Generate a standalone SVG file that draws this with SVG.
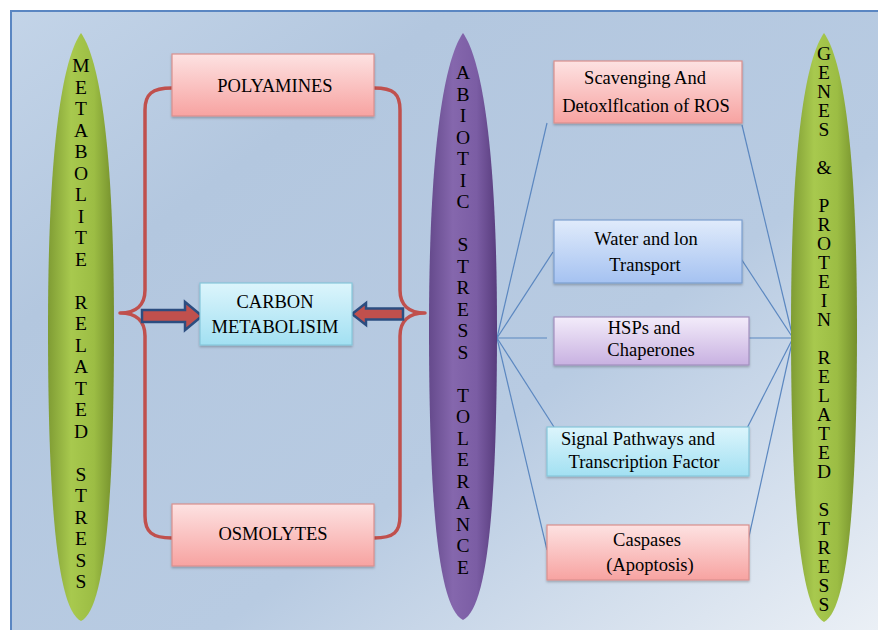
<svg xmlns="http://www.w3.org/2000/svg" width="878" height="630" viewBox="0 0 878 630">
<defs>
<linearGradient id="bg" x1="0" y1="0" x2="1" y2="1">
<stop offset="0" stop-color="#c3d4e8"/>
<stop offset="0.25" stop-color="#b3c7df"/>
<stop offset="0.6" stop-color="#b8cbe2"/>
<stop offset="1" stop-color="#eef2f7"/>
</linearGradient>
<linearGradient id="gGreen" x1="0" y1="0" x2="1" y2="0">
<stop offset="0" stop-color="#7f9c34"/>
<stop offset="0.35" stop-color="#a8c94e"/>
<stop offset="0.7" stop-color="#9cbd44"/>
<stop offset="1" stop-color="#748f2c"/>
</linearGradient>
<linearGradient id="gPurple" x1="0" y1="0" x2="1" y2="0">
<stop offset="0" stop-color="#654a8c"/>
<stop offset="0.35" stop-color="#8567ad"/>
<stop offset="0.7" stop-color="#7b5da4"/>
<stop offset="1" stop-color="#583c7d"/>
</linearGradient>
<linearGradient id="gPink" x1="0" y1="0" x2="0" y2="1">
<stop offset="0" stop-color="#fde2e2"/>
<stop offset="1" stop-color="#f7a3a1"/>
</linearGradient>
<linearGradient id="gCyan" x1="0" y1="0" x2="0" y2="1">
<stop offset="0" stop-color="#dcf5fc"/>
<stop offset="1" stop-color="#a2e0f2"/>
</linearGradient>
<linearGradient id="gBlue" x1="0" y1="0" x2="0" y2="1">
<stop offset="0" stop-color="#e0ebfb"/>
<stop offset="1" stop-color="#a5c2f1"/>
</linearGradient>
<linearGradient id="gLav" x1="0" y1="0" x2="0" y2="1">
<stop offset="0" stop-color="#f3ecfa"/>
<stop offset="1" stop-color="#c8b1e1"/>
</linearGradient>
<filter id="sh" x="-10%" y="-10%" width="120%" height="130%">
<feDropShadow dx="0" dy="1.5" stdDeviation="1.2" flood-color="#000" flood-opacity="0.25"/>
</filter>
<style>
text{font-family:"Liberation Serif","Times New Roman",serif;font-size:18.5px;fill:#000;text-anchor:middle}
.v text{font-size:19.5px}
.pink{fill:url(#gPink);stroke:#d9908e;stroke-width:1.2}
.cyan{fill:url(#gCyan);stroke:#86c6da;stroke-width:1.2}
.blue{fill:url(#gBlue);stroke:#7c9fcf;stroke-width:1.2}
.lav{fill:url(#gLav);stroke:#a28fbf;stroke-width:1.2}
.brace{fill:none;stroke:#c0504d;stroke-width:3.5;stroke-linejoin:round}
.arrow{fill:#c0504d;stroke:#2c4d80;stroke-width:2.5;stroke-linejoin:miter}
.link{stroke:#5b87c0;stroke-width:1.2;fill:none}
</style>
</defs>

<rect x="11" y="11" width="880" height="640" fill="url(#bg)" stroke="#5a86c2" stroke-width="2"/>

<g id="connectors">
<path class="brace" d="M172,88 C152,88 145,94 145,110 L145,290 C145,305 136,313 120,313 C136,313 145,321 145,336 L145,516 C145,532 152,538 172,538"/>
<path class="brace" d="M374,88 C394,88 400,94 400,110 L400,290 C400,305 409,313 425,313 C409,313 400,321 400,336 L400,516 C400,532 394,538 374,538"/>
<polygon class="arrow" points="142,310 185,310 185,302 202,316 185,330 185,322 142,322"/>
<polygon class="arrow" points="352,314 366,303 366,308.5 403,308.5 403,319.5 366,319.5 366,325"/>
<line class="link" x1="497" y1="338" x2="547" y2="123"/>
<line class="link" x1="497" y1="338" x2="553" y2="252"/>
<line class="link" x1="497" y1="338" x2="547" y2="338"/>
<line class="link" x1="497" y1="338" x2="554" y2="427"/>
<line class="link" x1="497" y1="338" x2="547" y2="550"/>
<line class="link" x1="793" y1="338" x2="742" y2="125"/>
<line class="link" x1="793" y1="338" x2="734" y2="248"/>
<line class="link" x1="793" y1="338" x2="742" y2="338"/>
<line class="link" x1="793" y1="338" x2="742" y2="438"/>
<line class="link" x1="793" y1="338" x2="742" y2="568"/>
</g>

<g id="metabolite">
<path d="M81,33 C100,60 114,150 114,327 C114,510 104,610 81,621 C58,610 48,510 48,327 C48,150 62,60 81,33 Z" fill="url(#gGreen)"/>
<g class="v">
<text x="81" y="72">M</text><text x="81" y="93.5">E</text><text x="81" y="115">T</text><text x="81" y="136.5">A</text><text x="81" y="158">B</text><text x="81" y="179.5">O</text><text x="81" y="201">L</text><text x="81" y="222.5">I</text><text x="81" y="244">T</text><text x="81" y="265.5">E</text>
<text x="81" y="308.5">R</text><text x="81" y="330">E</text><text x="81" y="351.5">L</text><text x="81" y="373">A</text><text x="81" y="394.5">T</text><text x="81" y="416">E</text><text x="81" y="437.5">D</text>
<text x="81" y="480.5">S</text><text x="81" y="502">T</text><text x="81" y="523.5">R</text><text x="81" y="545">E</text><text x="81" y="566.5">S</text><text x="81" y="588">S</text>
</g>
</g>

<g id="abiotic">
<path d="M463,33 C482,60 497,150 497,327 C497,510 487,608 463,620 C439,608 429,510 429,327 C429,150 444,60 463,33 Z" fill="url(#gPurple)"/>
<g class="v">
<text x="463" y="79">A</text><text x="463" y="100.5">B</text><text x="463" y="122">I</text><text x="463" y="143.5">O</text><text x="463" y="165">T</text><text x="463" y="186.5">I</text><text x="463" y="208">C</text>
<text x="463" y="251">S</text><text x="463" y="272.5">T</text><text x="463" y="294">R</text><text x="463" y="315.5">E</text><text x="463" y="337">S</text><text x="463" y="358.5">S</text>
<text x="463" y="401.5">T</text><text x="463" y="423">O</text><text x="463" y="444.5">L</text><text x="463" y="466">E</text><text x="463" y="487.5">R</text><text x="463" y="509">A</text><text x="463" y="530.5">N</text><text x="463" y="552">C</text><text x="463" y="573.5">E</text>
</g>
</g>

<g id="genes">
<path d="M824,33 C843,60 857,150 857,327 C857,510 847,610 824,622 C801,610 791,510 791,327 C791,150 805,60 824,33 Z" fill="url(#gGreen)"/>
<g class="v">
<text x="824" y="60">G</text><text x="824" y="79">E</text><text x="824" y="98">N</text><text x="824" y="117">E</text><text x="824" y="136">S</text>
<text x="824" y="174">&amp;</text>
<text x="824" y="212">P</text><text x="824" y="231">R</text><text x="824" y="250">O</text><text x="824" y="269">T</text><text x="824" y="288">E</text><text x="824" y="307">I</text><text x="824" y="326">N</text>
<text x="824" y="364">R</text><text x="824" y="383">E</text><text x="824" y="402">L</text><text x="824" y="421">A</text><text x="824" y="440">T</text><text x="824" y="459">E</text><text x="824" y="478">D</text>
<text x="824" y="516">S</text><text x="824" y="535">T</text><text x="824" y="554">R</text><text x="824" y="573">E</text><text x="824" y="592">S</text><text x="824" y="611">S</text>
</g>
</g>

<g id="polyamines">
<rect class="pink" x="172" y="54" width="202" height="62" filter="url(#sh)"/>
<text x="275" y="92">POLYAMINES</text>
</g>

<g id="carbon">
<rect class="cyan" x="200" y="283" width="152" height="62" filter="url(#sh)"/>
<text x="275" y="308">CARBON</text>
<text x="275" y="333">METABOLISIM</text>
</g>

<g id="osmolytes">
<rect class="pink" x="172" y="504" width="202" height="62" filter="url(#sh)"/>
<text x="273" y="540">OSMOLYTES</text>
</g>

<g id="scavenging">
<rect class="pink" x="554" y="61" width="188" height="62" filter="url(#sh)"/>
<text x="645" y="84">Scavenging And</text>
<text x="646" y="112">Detoxlflcation of ROS</text>
</g>

<g id="water">
<rect class="blue" x="554" y="220" width="188" height="63" filter="url(#sh)"/>
<text x="646" y="245">Water and lon</text>
<text x="645" y="271">Transport</text>
</g>

<g id="hsps">
<rect class="lav" x="554" y="317" width="195" height="48" filter="url(#sh)"/>
<text x="644" y="334">HSPs and</text>
<text x="651" y="356">Chaperones</text>
</g>

<g id="signal">
<rect class="cyan" x="547" y="427" width="202" height="49" filter="url(#sh)"/>
<text x="638" y="445">Signal Pathways and</text>
<text x="644" y="468">Transcription Factor</text>
</g>

<g id="caspases">
<rect class="pink" x="547" y="525" width="202" height="55" filter="url(#sh)"/>
<text x="647" y="546">Caspases</text>
<text x="650" y="571">(Apoptosis)</text>
</g>
</svg>
